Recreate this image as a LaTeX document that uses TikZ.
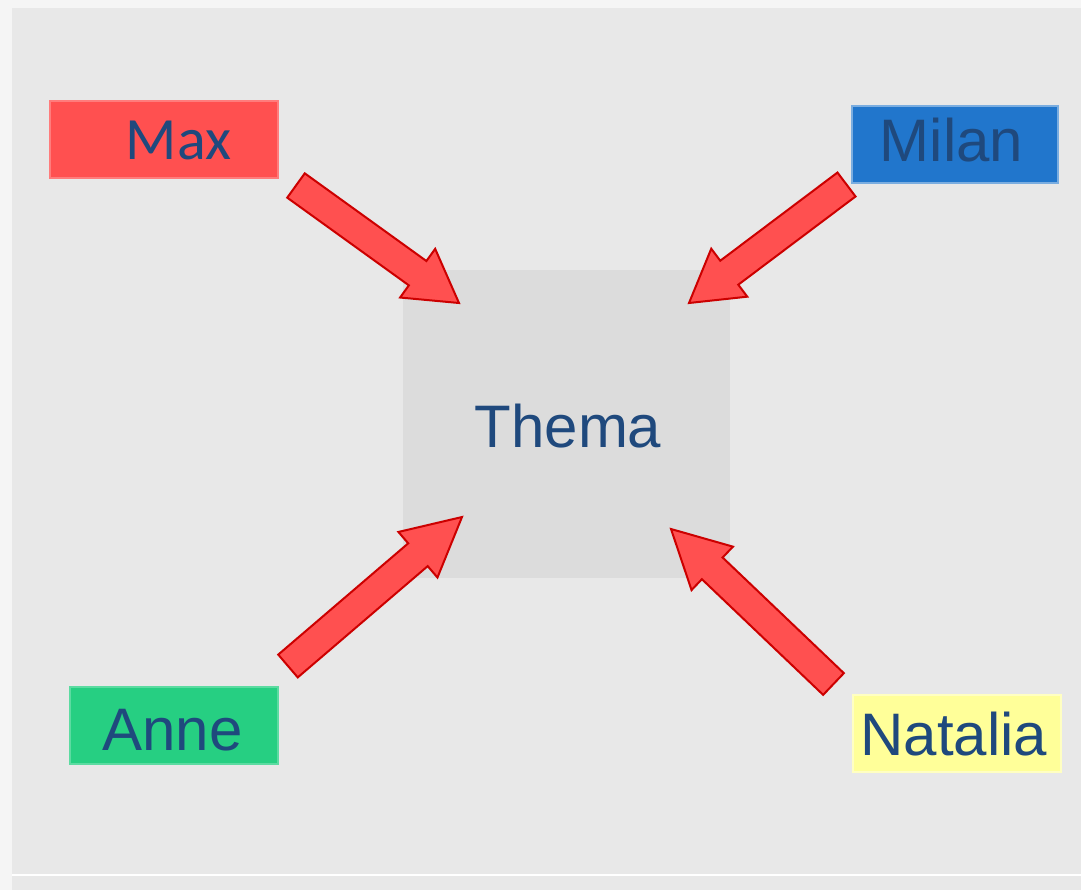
\documentclass[tikz,border=0pt]{standalone}
\usepackage{fontspec}
\setmainfont{Liberation Sans}
\newfontfamily\calib{Carlito}
\usetikzlibrary{calc}
\definecolor{outerbg}{HTML}{F5F5F5}
\definecolor{panelbg}{HTML}{E8E8E8}
\definecolor{themabg}{HTML}{DCDCDC}
\definecolor{txtblue}{HTML}{1F497D}
\definecolor{maxred}{HTML}{FF5050}
\definecolor{milanblue}{HTML}{2176CC}
\definecolor{annegreen}{HTML}{26CF82}
\definecolor{natyellow}{HTML}{FFFF99}
\definecolor{arrfill}{HTML}{FF5050}
\definecolor{arrline}{HTML}{CC0000}
\newcommand\blockarr[3]{%
\draw[blockarrow] ($(#1)!7.5pt!90:(#2)$) -- ($($(#2)!#3!(#1)$)!7.5pt!90:(#2)$) -- ($($(#2)!#3!(#1)$)!15pt!90:(#2)$) -- (#2) -- ($($(#2)!#3!(#1)$)!15pt!-90:(#2)$) -- ($($(#2)!#3!(#1)$)!7.5pt!-90:(#2)$) -- ($(#1)!7.5pt!-90:(#2)$) -- cycle;}
\begin{document}
\begin{tikzpicture}[x=0.5pt,y=-0.5pt,
  namebox/.style={rectangle, inner sep=0pt, outer sep=0pt, line width=0.6pt},
  nametext/.style={anchor=base, inner sep=0pt, text=txtblue, font=\fontsize{30}{36}\selectfont},
  blockarrow/.style={fill=arrfill, draw=arrline, line width=1pt, line join=miter}]
\useasboundingbox (0,0) rectangle (1081,890);
\fill[outerbg] (0,0) rectangle (1081,890);
\fill[panelbg] (12,8) rectangle (1081,890);
\draw[white, line width=1pt] (12,874.5) -- (1081,874.5);
% boxes
\node[namebox, fill=themabg, minimum width=163.5pt, minimum height=154pt] (thema) at (566.5,424) {};
\node[namebox, fill=maxred, draw=maxred!75!white, minimum width=114pt, minimum height=38.5pt] (max) at (164,139.5) {};
\node[namebox, fill=milanblue, draw=milanblue!60!white, minimum width=103pt, minimum height=38.5pt] (milan) at (955,144.5) {};
\node[namebox, fill=annegreen, draw=annegreen!75!white, minimum width=104pt, minimum height=38.5pt] (anne) at (174,725.5) {};
\node[namebox, fill=natyellow, draw=natyellow!60!white, minimum width=104pt, minimum height=38.5pt] (natalia) at (957,733.5) {};
% texts
\node[nametext] (thematext) at (568,447) {Thema};
\node[nametext, font=\calib\fontsize{30}{36}\selectfont] (maxtext) at (178.5,159) {Max};
\node[nametext] (milantext) at (951.5,161) {Milan};
\node[nametext] (annetext) at (172.5,750) {Anne};
\node[nametext] (nataliatext) at (954,755) {Natalia};
% arrow ends
\coordinate (t1) at (296,185.5);
\coordinate (h1) at (459,303);
\coordinate (t2) at (846.5,184.5);
\coordinate (h2) at (689,303);
\coordinate (t3) at (288,666);
\coordinate (h3) at (462,517);
\coordinate (t4) at (833.5,684);
\coordinate (h4) at (671,529);
\blockarr{t1}{h1}{25.5pt}
\blockarr{t2}{h2}{25.2pt}
\blockarr{t3}{h3}{29pt}
\blockarr{t4}{h4}{28.5pt}
\end{tikzpicture}
\end{document}
